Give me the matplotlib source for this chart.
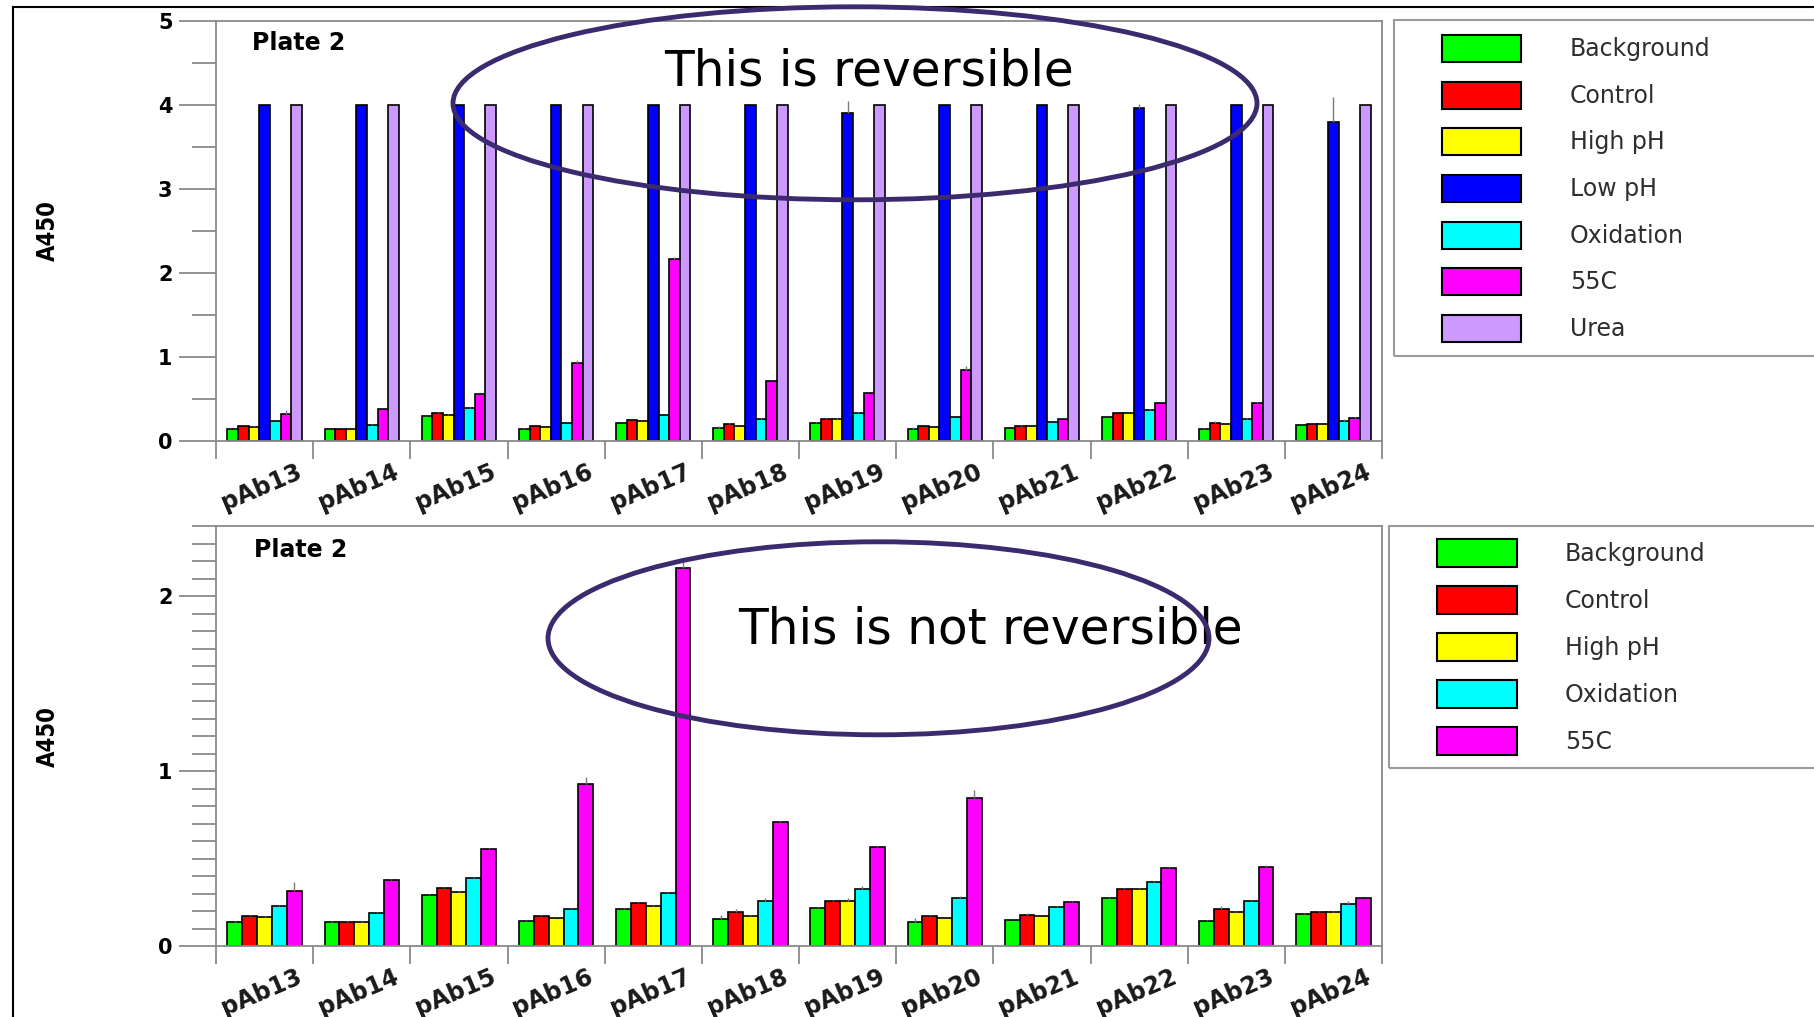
import matplotlib
matplotlib.use("Agg")
import matplotlib.pyplot as plt
import numpy as np
from matplotlib.patches import Rectangle, Ellipse
from matplotlib.lines import Line2D
from matplotlib.ticker import MultipleLocator
from matplotlib.transforms import ScaledTranslation
from matplotlib import font_manager

# ---------------- data ----------------
categories = ["pAb13", "pAb14", "pAb15", "pAb16", "pAb17", "pAb18",
              "pAb19", "pAb20", "pAb21", "pAb22", "pAb23", "pAb24"]

background = [0.139, 0.139, 0.290, 0.145, 0.210, 0.156, 0.216, 0.139, 0.147, 0.277, 0.145, 0.185]
control    = [0.172, 0.139, 0.330, 0.172, 0.246, 0.197, 0.260, 0.172, 0.177, 0.324, 0.210, 0.197]
high_ph    = [0.166, 0.139, 0.311, 0.158, 0.229, 0.172, 0.260, 0.158, 0.170, 0.324, 0.197, 0.197]
low_ph     = [4.00, 4.00, 4.00, 4.00, 4.00, 4.00, 3.90, 4.00, 4.00, 3.96, 4.00, 3.79]
oxidation  = [0.229, 0.191, 0.391, 0.210, 0.302, 0.260, 0.328, 0.277, 0.221, 0.366, 0.260, 0.240]
c55        = [0.317, 0.378, 0.553, 0.926, 2.162, 0.706, 0.567, 0.844, 0.254, 0.448, 0.454, 0.273]
urea       = [4.00, 4.00, 4.00, 4.00, 4.00, 4.00, 4.00, 4.00, 4.00, 4.00, 4.00, 4.00]

background_err = [0.005, 0.003, 0.005, 0.005, 0.005, 0.020, 0.005, 0.020, 0.004, 0.005, 0.005, 0.004]
control_err    = [0.005, 0.003, 0.008, 0.005, 0.006, 0.015, 0.005, 0.005, 0.012, 0.005, 0.020, 0.005]
high_ph_err    = [0.004, 0.003, 0.005, 0.004, 0.005, 0.004, 0.012, 0.004, 0.004, 0.010, 0.004, 0.004]
low_ph_err     = [0.0, 0.0, 0.0, 0.0, 0.0, 0.0, 0.14, 0.0, 0.0, 0.05, 0.0, 0.30]
oxidation_err  = [0.005, 0.004, 0.006, 0.005, 0.006, 0.012, 0.015, 0.006, 0.005, 0.006, 0.005, 0.020]
c55_err        = [0.046, 0.005, 0.008, 0.040, 0.030, 0.010, 0.006, 0.046, 0.004, 0.005, 0.008, 0.004]
urea_err       = [0.0, 0.0, 0.0, 0.0, 0.0, 0.0, 0.0, 0.0, 0.0, 0.0, 0.0, 0.0]

top_labels = ["Background", "Control", "High pH", "Low pH", "Oxidation", "55C", "Urea"]
top_colors = ["#00FF00", "#FF0000", "#FFFF00", "#0000FF", "#00FFFF", "#FF00FF", "#CC99FF"]
bottom_labels = ["Background", "Control", "High pH", "Oxidation", "55C"]
bottom_colors = ["#00FF00", "#FF0000", "#FFFF00", "#00FFFF", "#FF00FF"]

top_yticks = [0, 1, 2, 3, 4, 5]
bottom_yticks = [0, 1, 2]

# ---------------- fonts ----------------
avail = {f.name for f in font_manager.fontManager.ttflist}
if "Liberation Sans Narrow" in avail:
    narrow_kw = dict(family=["Liberation Sans Narrow", "DejaVu Sans"])
else:
    narrow_kw = dict(family=["DejaVu Sans"], fontstretch="condensed")
plt.rcParams["font.family"] = ["DejaVu Sans"]

W, H = 1814, 1017
def fx(px):
    return px / W
def fy(py):
    return 1 - py / H

fig = plt.figure(figsize=(W / 100, H / 100), dpi=100)
fig.patch.set_facecolor("white")

GRAY = "#8a8a8a"

def make_axes(top_px, bot_px):
    ax = fig.add_axes([fx(216), fy(bot_px), fx(1382) - fx(216), (bot_px - top_px) / H])
    for s in ax.spines.values():
        s.set_color(GRAY)
        s.set_linewidth(1.3)
    return ax

def draw_bars(ax, series, errs, colors):
    n = len(series)
    centers = np.arange(len(categories)) + 0.5
    group = 0.765
    w = group / n
    for i, (vals, err, col) in enumerate(zip(series, errs, colors)):
        xs = centers - group / 2 + (i + 0.5) * w
        ax.bar(xs, vals, width=w, color=col, edgecolor="black", linewidth=1.2, zorder=2)
        e = np.array(err)
        ax.errorbar(xs, vals, yerr=[np.zeros_like(e), e], fmt="none",
                    ecolor="#7a7a7a", elinewidth=1.0, capsize=0, zorder=3)
    ax.set_xlim(0, len(categories))
    ax.set_xticks(np.arange(len(categories) + 1), minor=True)
    ax.set_xticks(centers, categories, rotation=23, ha="right", va="center",
                  rotation_mode="anchor", fontsize=17, fontweight="bold", color="#1a1a1a")
    ax.tick_params(axis="x", which="major", length=0, pad=21.5)
    ax.tick_params(axis="x", which="minor", length=13, width=1.3, color=GRAY, direction="out")
    off = ScaledTranslation(0.36, 0, fig.dpi_scale_trans)
    for lbl in ax.get_xticklabels():
        lbl.set_transform(lbl.get_transform() + off)

def style_y(ax, ticks, ylim, minor):
    ax.set_ylim(*ylim)
    ax.set_yticks(ticks, [str(t) for t in ticks], fontweight="bold", fontsize=15)
    ax.yaxis.set_minor_locator(MultipleLocator(minor))
    ax.tick_params(axis="y", which="major", length=26.8, width=1.3, color=GRAY,
                   direction="out", pad=4.5)
    ax.tick_params(axis="y", which="minor", length=17.3, width=1.3, color=GRAY, direction="out")

# ---------------- top chart ----------------
ax1 = make_axes(20.7, 440.7)
draw_bars(ax1, [background, control, high_ph, low_ph, oxidation, c55, urea],
          [background_err, control_err, high_ph_err, low_ph_err, oxidation_err, c55_err, urea_err],
          top_colors)
style_y(ax1, top_yticks, (0, 5), 0.5)

# ---------------- bottom chart ----------------
ax2 = make_axes(526, 946)
draw_bars(ax2, [background, control, high_ph, oxidation, c55],
          [background_err, control_err, high_ph_err, oxidation_err, c55_err],
          bottom_colors)
style_y(ax2, bottom_yticks, (0, 2.4), 0.1)

# ---------------- texts ----------------
fig.text(fx(252), fy(50), "Plate 2", fontsize=17, fontweight="bold", ha="left", va="baseline")
fig.text(fx(254), fy(557), "Plate 2", fontsize=17, fontweight="bold", ha="left", va="baseline")
fig.text(fx(48), fy(231), "A450", rotation=90, ha="center", va="center",
         fontsize=17, fontweight="bold", **narrow_kw)
fig.text(fx(48), fy(737), "A450", rotation=90, ha="center", va="center",
         fontsize=17, fontweight="bold", **narrow_kw)

fig.text(fx(664), fy(85), "This is reversible", fontsize=35, ha="left", va="baseline", color="black")
fig.text(fx(738), fy(643), "This is not reversible", fontsize=35, ha="left", va="baseline", color="black")

ELL = "#3b2b6e"
fig.add_artist(Ellipse((fx(855), fy(103.3)), 804 / W, 193 / H, fill=False,
                       edgecolor=ELL, linewidth=3.5, transform=fig.transFigure, zorder=5))
fig.add_artist(Ellipse((fx(878.5), fy(638.3)), 661 / W, 193 / H, fill=False,
                       edgecolor=ELL, linewidth=3.5, transform=fig.transFigure, zorder=5))

# slide frame lines
fig.add_artist(Line2D([fx(13), fx(13)], [fy(7), 0], transform=fig.transFigure, color="black", lw=1.5))
fig.add_artist(Line2D([fx(13), 1], [fy(7), fy(7)], transform=fig.transFigure, color="black", lw=1.5))

# ---------------- legends ----------------
def draw_legend(top, bottom, left, sx0, sx1, tx, first_center, pitch, sh, labels, colors):
    fig.add_artist(Rectangle((fx(left), fy(bottom)), (W + 20 - left) / W, (bottom - top) / H,
                             fill=False, edgecolor="#9a9a9a", linewidth=1.5,
                             transform=fig.transFigure, clip_on=False))
    for i, (lab, col) in enumerate(zip(labels, colors)):
        c = first_center + i * pitch
        fig.add_artist(Rectangle((fx(sx0), fy(c + sh / 2)), (sx1 - sx0) / W, sh / H,
                                 facecolor=col, edgecolor="black", linewidth=1.5,
                                 transform=fig.transFigure))
        fig.text(fx(tx), fy(c + 7.5), lab, fontsize=17, color="#2e2e2e",
                 ha="left", va="baseline")

draw_legend(20, 356, 1394, 1442, 1521, 1570, 48.7, 46.6, 27, top_labels, top_colors)
draw_legend(526, 768, 1389, 1437, 1517, 1565, 553.3, 47.0, 28, bottom_labels, bottom_colors)

fig.savefig("out.png", dpi=100)
